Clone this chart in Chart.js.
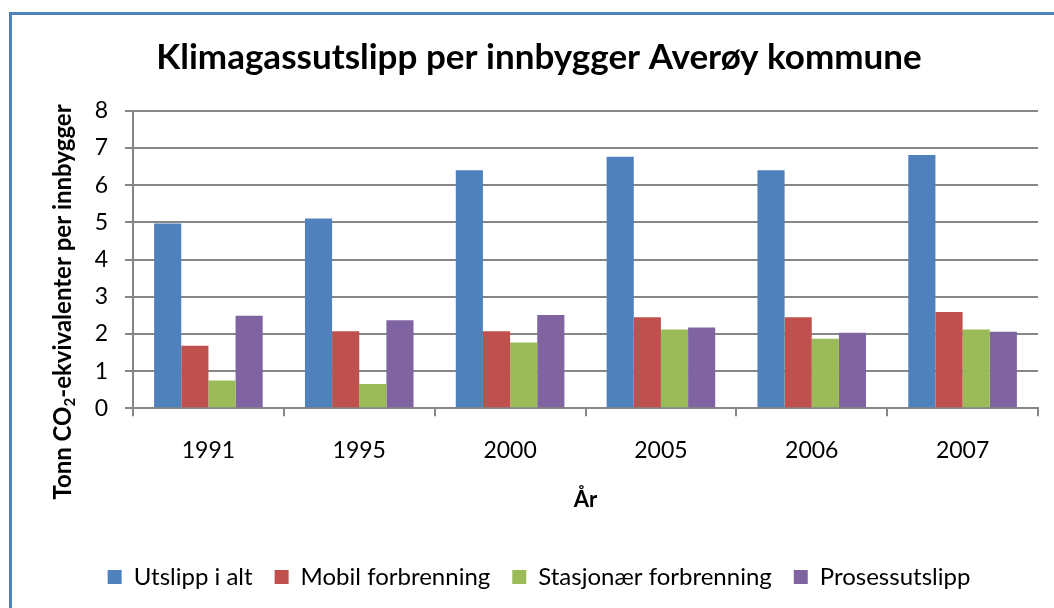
<!DOCTYPE html>
<html>
<head>
<meta charset="utf-8">
<script src="https://cdn.jsdelivr.net/npm/chart.js@4"></script>
<style>
  html, body { margin: 0; padding: 0; background: #fff; overflow: hidden; }
  #frame { position: absolute; left: 9px; top: 12px; width: 1100px; height: 700px;
           border-left: 3px solid #4f81bd; border-top: 3px solid #4f81bd; }
  #wrap { position: absolute; left: 0; top: 0; width: 1054px; height: 608px; }
</style>
</head>
<body>
<div id="frame"></div>
<div id="wrap"><canvas id="chart" width="1054" height="608"></canvas></div>
<script>
// data
const years = ['1991', '1995', '2000', '2005', '2006', '2007'];
const utslippIAlt = [4.97, 5.10, 6.40, 6.76, 6.40, 6.81];
const mobilForbrenning = [1.68, 2.07, 2.07, 2.45, 2.45, 2.59];
const stasjonaerForbrenning = [0.75, 0.65, 1.77, 2.12, 1.87, 2.12];
const prosessutslipp = [2.49, 2.37, 2.51, 2.17, 2.03, 2.06];
const seriesNames = ['Utslipp i alt', 'Mobil forbrenning', 'Stasjonær forbrenning', 'Prosessutslipp'];
const seriesColors = ['#4f81bd', '#c0504d', '#9bbb59', '#8064a2'];

const titleText = 'Klimagassutslipp per innbygger Averøy kommune';
const yTitleParts = ['Tonn CO', '2', '-ekvivalenter per innbygger'];

const FONT = 'Lato';
const gridGrey = '#868686';

// y axis title with subscript, drawn rotated at the left
const yTitlePlugin = {
    id: 'yTitle',
    afterDraw(chart) {
        const ctx = chart.ctx;
        const big = 'bold 24px ' + FONT;
        const small = 'bold 15px ' + FONT;
        ctx.save();
        ctx.font = big;
        const w0 = ctx.measureText(yTitleParts[0]).width;
        const w2 = ctx.measureText(yTitleParts[2]).width;
        ctx.font = small;
        const w1 = ctx.measureText(yTitleParts[1]).width;
        const total = w0 + w1 + w2;
        ctx.translate(63, 302);
        ctx.rotate(-Math.PI / 2);
        ctx.fillStyle = '#000';
        ctx.textBaseline = 'middle';
        ctx.textAlign = 'left';
        let x = -total / 2;
        ctx.font = big;
        ctx.fillText(yTitleParts[0], x, 0);
        x += w0;
        ctx.font = small;
        ctx.fillText(yTitleParts[1], x, 7);
        x += w1;
        ctx.font = big;
        ctx.fillText(yTitleParts[2], x, 0);
        ctx.restore();
    }
};

const datasets = [utslippIAlt, mobilForbrenning, stasjonaerForbrenning, prosessutslipp].map((d, i) => ({
    label: seriesNames[i],
    data: d,
    backgroundColor: seriesColors[i],
    borderWidth: 0,
    barPercentage: 1.0,
    categoryPercentage: 0.72
}));

var ctx = document.getElementById('chart').getContext('2d');
var chart = new Chart(ctx, {
    type: 'bar',
    data: { labels: years, datasets: datasets },
    plugins: [yTitlePlugin],
    options: {
        responsive: false,
        animation: false,
        layout: { padding: { left: 40, right: 16, top: 0, bottom: 9 } },
        plugins: {
            title: {
                display: true,
                text: titleText,
                color: '#000',
                font: { family: FONT, size: 35, weight: 'bold' },
                padding: { top: 37, bottom: 31.7 }
            },
            legend: {
                position: 'bottom',
                labels: {
                    color: '#000',
                    font: { family: FONT, size: 24 },
                    boxWidth: 14,
                    boxHeight: 14,
                    padding: 22
                }
            },
            tooltip: { enabled: false }
        },
        scales: {
            x: {
                grid: { offset: true, drawOnChartArea: false, drawTicks: true, tickLength: 8, color: gridGrey, lineWidth: 2 },
                border: { color: gridGrey, width: 2 },
                ticks: { color: '#000', font: { family: FONT, size: 23 }, padding: 20 },
                title: {
                    display: true, text: 'År', color: '#000',
                    font: { family: FONT, size: 22, weight: 'bold' },
                    padding: { top: 0, bottom: 30 }
                },
                afterFit(s) { s.height = 134.7; }
            },
            y: {
                min: 0,
                max: 8,
                ticks: { stepSize: 1, padding: 17, color: '#000', font: { family: FONT, size: 23 } },
                grid: { color: gridGrey, lineWidth: 2, tickLength: 8 },
                border: { color: gridGrey, width: 2 },
                afterFit(s) { s.width = 93; }
            }
        }
    }
});
</script>
</body>
</html>
